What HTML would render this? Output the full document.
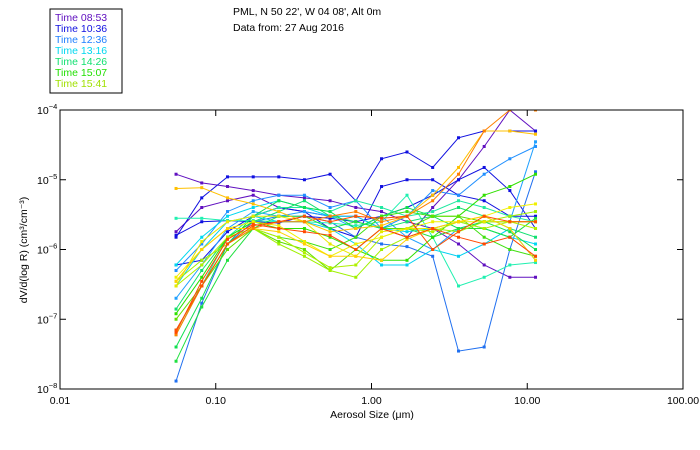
<!DOCTYPE html>
<html><head><meta charset="utf-8"><style>
body{margin:0;background:#fff;width:700px;height:450px;overflow:hidden}
svg{display:block;font-family:"Liberation Sans",sans-serif}
</style></head><body>
<svg id="chart" width="700" height="450">
<rect x="50" y="9" width="72" height="84" fill="#fff" stroke="#000"/>
<g id="legend" font-size="10.5"></g>
<text x="233" y="15" font-size="10.5">PML, N 50 22', W 04 08', Alt 0m</text>
<text x="233" y="31" font-size="10.5">Data from: 27 Aug 2016</text>
<defs><clipPath id="pc"><rect x="60" y="110" width="623" height="279"/></clipPath></defs>
<g id="series" clip-path="url(#pc)"></g>
<rect x="60" y="110" width="623" height="279" fill="none" stroke="#000"/>
<g id="axes" font-size="10.5"></g>
<text x="372" y="418" font-size="10.5" text-anchor="middle">Aerosol Size (μm)</text>
<text transform="translate(27,250) rotate(-90)" font-size="10.5" text-anchor="middle">dV/d(log R) (cm³/cm⁻³)</text>
</svg>
<script>
const sizes=[0.0556,0.0813,0.119,0.174,0.254,0.371,0.542,0.793,1.16,1.69,2.47,3.62,5.29,7.73,11.3];
const xTicks=[0.01,0.1,1,10,100];
const xTickLabels=["0.01","0.10","1.00","10.00","100.00"];
const yTicks=[-4,-5,-6,-7,-8];
const legendLabels=["Time 08:53","Time 10:36","Time 12:36","Time 13:16","Time 14:26","Time 15:07","Time 15:41"];
const legendColors=["#6010c0","#1010e0","#2080ff","#00d8f0","#10e070","#20e000","#a0e000"];
const seriesColors=["#6010c0","#6010c0","#1010e0","#1010e0","#1010e0","#2070f0","#2090ff","#20a0ff","#00d8f0","#00d0f0","#20f0b0","#20e8a0","#10e070","#10e050","#20e040","#30e000","#40e010","#60e000","#a0f000","#b0f000","#f0f000","#e8e800","#ffc000","#ffd000","#ff8000","#ff4800","#ff5000"];
const s1=[1.2e-5,9e-6,8e-6,7e-6,6e-6,5.5e-6,5e-6,4e-6,3.5e-6,2.5e-6,2e-6,1.2e-6,6e-7,4e-7,4e-7];
const s2=[1.8e-6,4e-6,5e-6,6e-6,4e-6,3.5e-6,3e-6,3e-6,2e-6,1.5e-6,4e-6,1e-5,3e-5,1e-4,5e-5];
const s3=[1.5e-6,5.5e-6,1.1e-5,1.1e-5,1.1e-5,1e-5,1.2e-5,5e-6,2e-5,2.5e-5,1.5e-5,4e-5,5e-5,5e-5,5e-5];
const s4=[1.6e-6,2.5e-6,2.6e-6,2.5e-6,2.4e-6,3e-6,2.8e-6,2.5e-6,3e-6,4e-6,6e-6,1e-5,1.5e-5,7e-6,2e-6];
const s5=[6e-7,7e-7,1.8e-6,3e-6,4e-6,3.5e-6,2e-6,1.5e-6,8e-6,1e-5,1e-5,6e-6,5e-6,3e-6,3e-6];
const s6=[1.3e-8,1.7e-7,1.2e-6,2.5e-6,3e-6,3e-6,2.5e-6,1.5e-6,1.2e-6,1.1e-6,8e-7,3.5e-8,4e-8,1e-6,1.3e-5];
const s7=[5e-7,1.2e-6,3.5e-6,5e-6,6e-6,6e-6,4e-6,5e-6,2e-6,3e-6,7e-6,6e-6,1.2e-5,2e-5,3e-5];
const s8=[2e-7,6e-7,2e-6,3.5e-6,3e-6,3.5e-6,3e-6,2e-6,3e-6,1.5e-6,1e-6,2e-6,2.5e-6,2.5e-6,3.5e-5];
const s9=[6e-7,1.5e-6,3e-6,4e-6,5e-6,4e-6,3e-6,3e-6,2e-6,1.8e-6,2e-6,2.5e-6,2e-6,1.5e-6,1.2e-6];
const s10=[3e-7,1e-6,2.5e-6,3e-6,2.5e-6,2.5e-6,2e-6,1.2e-6,6e-7,6e-7,1e-6,8e-7,1.2e-6,2e-6,7e-7];
const s11=[2.8e-6,2.8e-6,2.6e-6,2.6e-6,2.5e-6,2.5e-6,2.4e-6,2.2e-6,2.5e-6,6e-6,1.5e-6,3e-7,4e-7,6e-7,6.5e-7];
const s12=[7e-8,3e-7,1.5e-6,3e-6,4e-6,4e-6,3.5e-6,5e-6,4e-6,3e-6,3.5e-6,5e-6,4e-6,3e-6,2.5e-6];
const s13=[1.4e-7,5e-7,1.5e-6,2.5e-6,3.5e-6,5e-6,3e-6,2.5e-6,2e-6,2.5e-6,3e-6,4e-6,3e-6,2e-6,1.5e-6];
const s14=[4e-8,2e-7,1.2e-6,3e-6,5e-6,4e-6,3.5e-6,2e-6,3e-6,4e-6,3e-6,2e-6,2.5e-6,1.8e-6,1e-6];
const s15=[2.5e-8,1.5e-7,7e-7,2e-6,3e-6,3e-6,2e-6,2.5e-6,2e-6,2e-6,1.5e-6,2e-6,2e-6,1.5e-6,2.8e-6];
const s16=[1.2e-7,4e-7,1.5e-6,2.5e-6,2e-6,2e-6,1.5e-6,1e-6,7e-7,7e-7,1.5e-6,3e-6,6e-6,8e-6,1.2e-5];
const s17=[6e-8,3e-7,1.2e-6,2e-6,1.5e-6,1.3e-6,1e-6,1.5e-6,3e-6,3.5e-6,3e-6,3e-6,1.5e-6,1e-6,8e-7];
const s18=[1e-7,3e-7,1e-6,2e-6,1.3e-6,1e-6,5e-7,1e-6,2e-6,2e-6,3e-6,3e-6,2.5e-6,2.5e-6,2.5e-6];
const s19=[3.5e-7,7e-7,1.2e-6,2e-6,1.2e-6,8e-7,5e-7,4e-7,1e-6,1.5e-6,2e-6,1.8e-6,2.5e-6,3e-6,3.5e-6];
const s20=[3e-7,6e-7,1.5e-6,2e-6,1.5e-6,9e-7,5.5e-7,6e-7,1.5e-6,2e-6,1.8e-6,2.5e-6,2e-6,2.5e-6,2e-6];
const s21=[4e-7,1e-6,2e-6,2.5e-6,2.2e-6,1.3e-6,8e-7,1.2e-6,1.5e-6,2e-6,2.5e-6,2.5e-6,3e-6,4e-6,4.5e-6];
const s22=[3e-7,1.3e-6,2.5e-6,3e-6,3e-6,2.5e-6,1.2e-6,8e-7,1.8e-6,2e-6,2e-6,2.5e-6,2.5e-6,2.5e-6,2.5e-6];
const s23=[7.5e-6,7.7e-6,5.5e-6,4.5e-6,3.5e-6,2.5e-6,1.8e-6,2e-6,2.2e-6,3e-6,6e-6,1.5e-5,5e-5,5e-5,4.5e-5];
const s24=[3.5e-7,1e-6,2e-6,2e-6,1.8e-6,1.2e-6,8e-7,8e-7,7e-7,1.4e-6,2e-6,2.5e-6,3e-6,2e-6,7e-7];
const s25=[6e-8,3e-7,1.2e-6,2e-6,2.5e-6,2.5e-6,3e-6,3.5e-6,2.5e-6,3e-6,5e-6,1.2e-5,5e-5,1e-4,1e-4];
const s26=[6.5e-8,3.5e-7,1.4e-6,2.3e-6,2e-6,1.8e-6,1.6e-6,1e-6,2e-6,1.5e-6,2e-6,1.5e-6,1.2e-6,1.5e-6,8e-7];
const s27=[7e-8,3e-7,1.2e-6,2.2e-6,2.5e-6,3e-6,2.5e-6,3e-6,2.8e-6,3e-6,1e-6,1.8e-6,3e-6,2.5e-6,2.5e-6];
const allSeries=[s1,s2,s3,s4,s5,s6,s7,s8,s9,s10,s11,s12,s13,s14,s15,s16,s17,s18,s19,s20,s21,s22,s23,s24,s25,s26,s27];

const NS="http://www.w3.org/2000/svg";
const X0=60,X1=683,Y0=110,Y1=389;
function xs(v){return X0+(Math.log10(v)+2)/4*(X1-X0);}
function ys(v){return Y0+(-4-Math.log10(v))/4*(Y1-Y0);}
function mk(t,a,p){const e=document.createElementNS(NS,t);for(const k in a)e.setAttribute(k,a[k]);p.appendChild(e);return e;}

const lg=document.getElementById('legend');
legendLabels.forEach((l,i)=>{
  const t=mk('text',{x:55,y:21+i*11,fill:legendColors[i]},lg);
  t.textContent=l;
  
  
});

const ax=document.getElementById('axes');
xTicks.forEach((v,i)=>{
  const x=xs(v);
  const a=mk('line',{x1:x,x2:x,y1:Y1,y2:Y1-6,stroke:'#000'},ax);
  
  
  const b=mk('line',{x1:x,x2:x,y1:Y0,y2:Y0+6,stroke:'#000'},ax);
  
  
  const t=mk('text',{x:x,y:404,'text-anchor':'middle'},ax);
  t.textContent=xTickLabels[i];
  
  
});
yTicks.forEach(e=>{
  const y=ys(Math.pow(10,e));
  const a=mk('line',{x1:X0,x2:X0+6,y1:y,y2:y,stroke:'#000'},ax);
  
  
  const b=mk('line',{x1:X1,x2:X1-6,y1:y,y2:y,stroke:'#000'},ax);
  
  
  const t=mk('text',{x:37,y:y+4},ax);
  t.textContent='10';
  const s=mk('tspan',{dy:-5,'font-size':7.5},t);
  s.textContent=String(e).replace('-','−');
  
  
});

const sg=document.getElementById('series');
allSeries.forEach((d,i)=>{
  const c=seriesColors[i];
  const g=mk('g',{},sg);
  
  
  const pts=d.map((v,j)=>xs(sizes[j]).toFixed(1)+','+ys(v).toFixed(1)).join(' ');
  const pl=mk('polyline',{points:pts,fill:'none',stroke:c,'stroke-width':1},g);
  
  
  d.forEach((v,j)=>{
    const r=mk('rect',{x:xs(sizes[j])-1.5,y:ys(v)-1.5,width:3,height:3,fill:c},g);
    
    
  });
});
</script>
</body></html>
